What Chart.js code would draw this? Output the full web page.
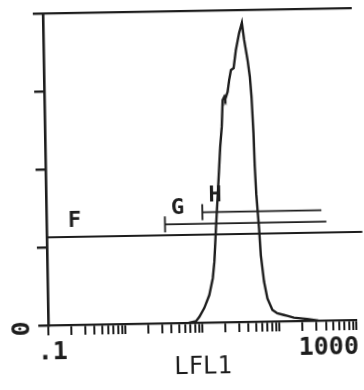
<!DOCTYPE html>
<html>
<head>
<meta charset="utf-8">
<title>LFL1 histogram</title>
<script src="https://cdn.jsdelivr.net/npm/chart.js@4.4.1/dist/chart.umd.min.js"></script>
<style>
  html, body { margin: 0; padding: 0; background: #fff; }
  #wrap { width: 364px; height: 390px; overflow: hidden; }
  /* the print was scanned slightly crooked */
  canvas { display: block; transform: rotate(-1deg); transform-origin: 50% 50%; }
</style>
</head>
<body>
<div id="wrap"><canvas id="hist" width="364" height="390"></canvas></div>
<script>
// histogram trace: LFL1 (log) vs count (% of full scale)
const lfl1 = [6.7, 8.3, 9.2, 10.7, 12.5, 14.0, 14.8, 15.8, 17.3, 18.1, 18.7, 19.8, 20.6, 21.7, 22.3,
  24.0, 25.3, 26.8, 29.1, 31.4, 34.9, 38.1, 40.4, 44.3, 47.0, 48.9, 50.9, 52.0, 53.6, 57.2, 59.5,
  64.6, 70.8, 81.7, 94.5, 115, 127, 155, 230, 321];
const counts = [0, 0.5, 1.9, 4.7, 8.8, 14.2, 19.5, 30.3, 44.0, 51.1, 56.3, 62.7, 71.2, 72.3, 71.5,
  73.8, 77.6, 80.8, 81.4, 87.2, 92.6, 95.9, 90.4, 83.9, 78.6, 72.1, 60.5, 49.7, 40.9, 30.0, 21.3,
  12.8, 7.4, 3.7, 2.6, 2.0, 1.7, 1.1, 0.6, 0];

// cursor gates
const gateNames = ["F", "G", "H"];
const gateStart = [0.1, 3.45, 10.6];
const gateEnd = [1250, 429, 372];
const gateLevel = [28.2, 31.7, 35.4];

// axis ticks
const xDecades = [0.1, 1, 10, 100];
const xLabelValues = [0.1, 1000];
const xLabelText = [".1", "1000"];
const yTickValues = [0, 25, 50, 75, 100];

const ink = "#1d1d1d";
const mono = "'DejaVu Sans Mono', monospace";

const xTickValues = [];
xDecades.forEach(d => {
  for (let s = 1; s <= 9; s++) xTickValues.push(+(d * s).toPrecision(3));
});
xTickValues.push(1000);

const gateSets = gateNames.map((name, i) => ({
  label: name,
  data: [{ x: gateStart[i], y: gateLevel[i] }, { x: gateEnd[i], y: gateLevel[i] }],
  borderColor: ink,
  borderWidth: 1.8,
  pointStyle: "line",
  pointRotation: 90,
  pointRadius: [i === 0 ? 0 : 8, 0],
  pointBorderWidth: 1.8,
  pointBorderColor: ink,
  clip: false,
}));

// text printed on the plot: gate names, end labels of the log axis, sideways zero
const printedText = {
  id: "printedText",
  afterDraw(chart) {
    const { ctx, chartArea, scales: { x, y } } = chart;
    ctx.save();
    ctx.fillStyle = ink;
    ctx.textBaseline = "middle";

    ctx.font = "bold 22px " + mono;
    ctx.textAlign = "center";
    gateNames.forEach((name, i) => {
      const px = x.getPixelForValue(gateStart[i]) + (i === 0 ? 28 : 13);
      const py = y.getPixelForValue(gateLevel[i]) - 16;
      ctx.fillText(name, px, py);
    });

    ctx.font = "bold 25px " + mono;
    xLabelValues.forEach((v, i) => {
      ctx.textAlign = i === 0 ? "left" : "right";
      const px = x.getPixelForValue(v) + (i === 0 ? -11 : 2);
      ctx.fillText(xLabelText[i], px, chartArea.bottom + 27);
    });

    ctx.font = "bold 25px " + mono;
    ctx.textAlign = "center";
    ctx.translate(chartArea.left - 26, y.getPixelForValue(yTickValues[0]) + 3);
    ctx.rotate(-Math.PI / 2);
    ctx.fillText(String(yTickValues[0]), 0, 0);
    ctx.restore();
  },
};

new Chart(document.getElementById("hist"), {
  type: "line",
  data: {
    datasets: [
      {
        label: "LFL1",
        data: lfl1.map((v, i) => ({ x: v, y: counts[i] })),
        borderColor: ink,
        borderWidth: 2.4,
        pointRadius: 0,
        tension: 0,
      },
      ...gateSets,
    ],
  },
  options: {
    responsive: false,
    animation: false,
    layout: { padding: { top: 11, right: 8, left: 0, bottom: 0 } },
    plugins: { legend: { display: false }, tooltip: { enabled: false } },
    scales: {
      x: {
        type: "logarithmic",
        min: 0.1,
        max: 1000,
        afterBuildTicks: (s) => { s.ticks = xTickValues.map(v => ({ value: v })); },
        afterFit: (s) => { s.height = 67; },
        ticks: { display: false },
        grid: { drawOnChartArea: false, drawTicks: true, tickLength: 10, lineWidth: 2, color: ink },
        border: { display: true, width: 2.2, color: ink },
        title: {
          display: true,
          text: "LFL1",
          color: ink,
          font: { family: mono, size: 24 },
          padding: { top: 0, bottom: 8 },
        },
      },
      x2: {
        type: "linear",
        axis: "x",
        position: "top",
        afterFit: (s) => { s.height = 0; },
        ticks: { display: false },
        grid: { display: false },
        border: { display: true, width: 2.2, color: ink },
      },
      y: {
        type: "linear",
        min: 0,
        max: 100,
        afterBuildTicks: (s) => { s.ticks = yTickValues.map(v => ({ value: v })); },
        afterFit: (s) => { s.width = 46; },
        ticks: { display: false },
        grid: { drawOnChartArea: false, drawTicks: true, tickLength: 10, lineWidth: 2.4, color: ink },
        border: { display: true, width: 2.6, color: ink },
      },
    },
  },
  plugins: [printedText],
});
</script>
</body>
</html>
